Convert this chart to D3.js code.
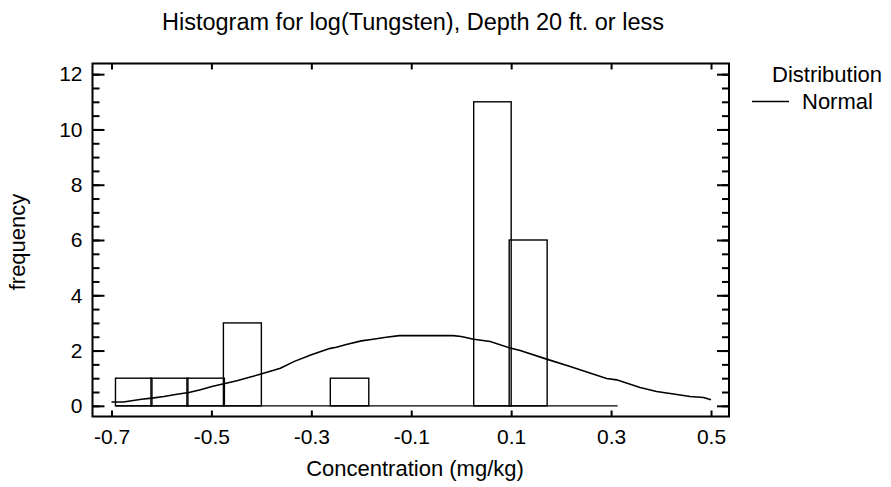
<!DOCTYPE html>
<html><head><meta charset="utf-8">
<script src="https://cdn.jsdelivr.net/npm/d3@7"></script>
<style>
body{margin:0;background:#fff;}
text{font-family:"Liberation Sans",Arial,sans-serif;fill:#000;}
</style></head>
<body><svg id="c" width="891" height="487"></svg>
<script>
// ---- data ----
const binStart = [-0.692, -0.621, -0.549, -0.476, -0.262, 0.025, 0.096];
const binEnd   = [-0.619, -0.547, -0.474, -0.400, -0.185, 0.100, 0.172];
const freq     = [1, 1, 1, 3, 1, 11, 6];
const baseRange = [-0.692, 0.313];
const curveX = [-0.700,-0.676,-0.640,-0.619,-0.595,-0.569,-0.545,-0.522,-0.499,-0.475,-0.449,-0.422,-0.399,-0.362,-0.335,-0.300,-0.262,-0.250,-0.230,-0.200,-0.180,-0.150,-0.124,-0.016,0.000,0.025,0.058,0.098,0.118,0.171,0.218,0.291,0.311,0.358,0.391,0.425,0.458,0.485,0.500];
const curveY = [0.14,0.14,0.24,0.28,0.34,0.42,0.48,0.58,0.70,0.80,0.91,1.04,1.16,1.36,1.60,1.85,2.08,2.12,2.22,2.35,2.40,2.48,2.54,2.54,2.51,2.41,2.33,2.09,2.00,1.69,1.42,0.99,0.94,0.66,0.52,0.43,0.34,0.30,0.22];
const xTicks = [-0.7,-0.5,-0.3,-0.1,0.1,0.3,0.5];
const yTicks = [0,2,4,6,8,10,12];
const yMinor = d3.range(0, 12.01, 0.5);
const title = "Histogram for log(Tungsten), Depth 20 ft. or less";
const xLabel = "Concentration (mg/kg)";
const yLabel = "frequency";
const legendTitle = "Distribution";
const legendItem = "Normal";

// ---- layout ----
const svg = d3.select("#c");
const L = 92.5, R = 729, T = 63.5, B = 416.5;
const x = d3.scaleLinear().domain([-0.738, 0.536]).range([L, R]);
const y = d3.scaleLinear().domain([-0.386, 12.386]).range([B, T]);

// bars
svg.append("g").selectAll("rect").data(freq).join("rect")
  .attr("x", (d,i)=>x(binStart[i]))
  .attr("width", (d,i)=>x(binEnd[i])-x(binStart[i]))
  .attr("y", d=>y(d))
  .attr("height", d=>y(0)-y(d))
  .attr("fill","none").attr("stroke","#000").attr("stroke-width",1.4);

// zero baseline
svg.append("line")
  .attr("x1", x(baseRange[0])).attr("x2", x(baseRange[1]))
  .attr("y1", y(0)).attr("y2", y(0))
  .attr("stroke","#000").attr("stroke-width",1.4);

// normal curve
const pts = curveX.map((v,i)=>[v, curveY[i]]);
svg.append("path").datum(pts)
  .attr("d", d3.line().x(d=>x(d[0])).y(d=>y(d[1])))
  .attr("fill","none").attr("stroke","#000").attr("stroke-width",1.6);

// axes (ticks inward)
const fmtX = d => d.toFixed(1);
const gB = svg.append("g").attr("transform",`translate(0,${B})`)
  .call(d3.axisBottom(x).tickValues(xTicks).tickFormat(fmtX).tickSizeInner(-6).tickSizeOuter(0).tickPadding(13));
const gT = svg.append("g").attr("transform",`translate(0,${T})`)
  .call(d3.axisTop(x).tickValues(xTicks).tickFormat("").tickSizeInner(-6).tickSizeOuter(0));
const gLm = svg.append("g").attr("transform",`translate(${L},0)`)
  .call(d3.axisLeft(y).tickValues(yMinor).tickFormat("").tickSizeInner(-7).tickSizeOuter(0));
const gL = svg.append("g").attr("transform",`translate(${L},0)`)
  .call(d3.axisLeft(y).tickValues(yTicks).tickFormat(d => String(d)).tickSizeInner(-12).tickSizeOuter(0).tickPadding(10));
const gRm = svg.append("g").attr("transform",`translate(${R},0)`)
  .call(d3.axisRight(y).tickValues(yMinor).tickFormat("").tickSizeInner(-7).tickSizeOuter(0));
const gR = svg.append("g").attr("transform",`translate(${R},0)`)
  .call(d3.axisRight(y).tickValues(yTicks).tickFormat("").tickSizeInner(-12).tickSizeOuter(0));
[gB,gT,gLm,gL,gRm,gR].forEach(g=>{
  g.select(".domain").remove();
  g.selectAll(".tick line").attr("stroke","#000").attr("stroke-width",2);
  g.selectAll(".tick text").style("font-family","'Liberation Sans',Arial,sans-serif").style("font-size","21px").attr("fill","#000");
});

// frame
svg.append("rect").attr("x",L).attr("y",T).attr("width",R-L).attr("height",B-T)
  .attr("fill","none").attr("stroke","#000").attr("stroke-width",2);

// titles
svg.append("text").attr("x",413).attr("y",30).attr("text-anchor","middle")
  .style("font-size","23.5px").text(title);
svg.append("text").attr("x",415).attr("y",476).attr("text-anchor","middle")
  .style("font-size","22px").text(xLabel);
svg.append("text").attr("transform",`translate(25,242) rotate(-90)`).attr("text-anchor","middle")
  .style("font-size","22px").text(yLabel);

// legend
svg.append("text").attr("x",772).attr("y",82).style("font-size","22px").text(legendTitle);
svg.append("line").attr("x1",752).attr("x2",789).attr("y1",101.5).attr("y2",101.5)
  .attr("stroke","#000").attr("stroke-width",1.6);
svg.append("text").attr("x",802).attr("y",109).style("font-size","22px").text(legendItem);
</script></body></html>
